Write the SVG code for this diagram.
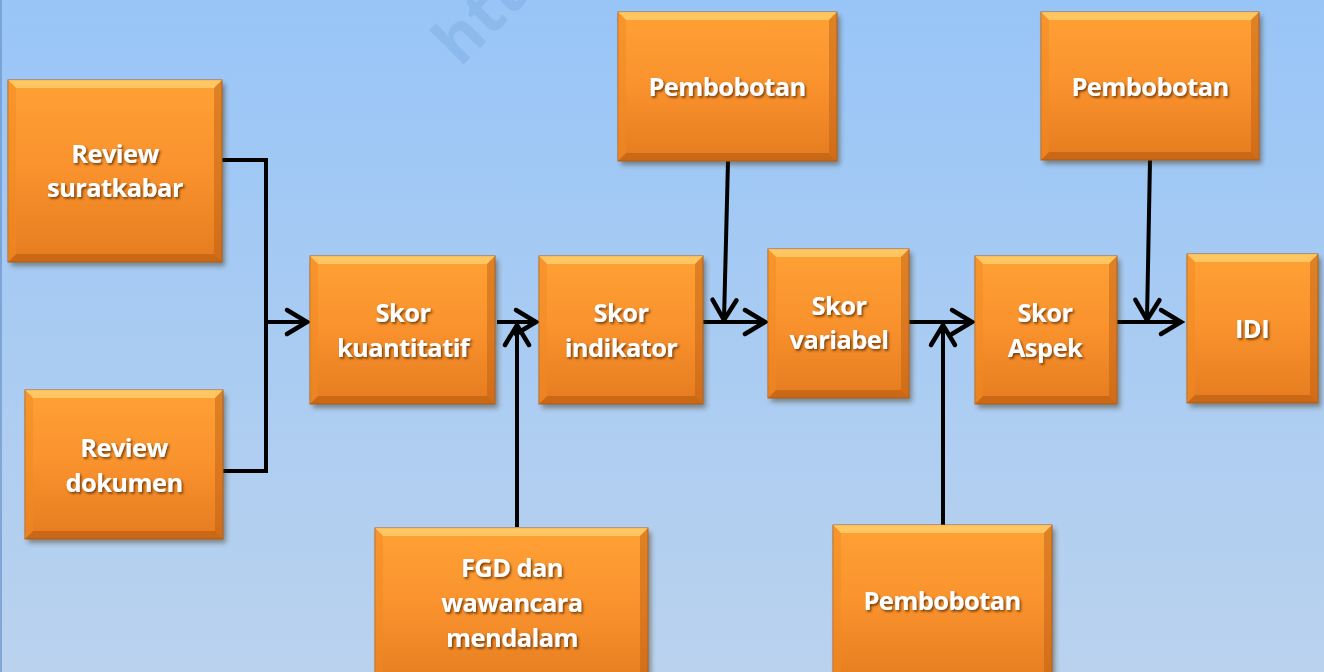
<svg xmlns="http://www.w3.org/2000/svg" width="1324" height="672" viewBox="0 0 1324 672">
<defs>
<linearGradient id="bg" x1="0" y1="0" x2="0" y2="1">
<stop offset="0" stop-color="#98C5F7"/>
<stop offset="1" stop-color="#BAD2EE"/>
</linearGradient>
<linearGradient id="face" x1="0" y1="0" x2="0" y2="1">
<stop offset="0" stop-color="#FFA135"/>
<stop offset="0.5" stop-color="#F9922D"/>
<stop offset="1" stop-color="#E57B1F"/>
</linearGradient>
<filter id="blur" x="-10%" y="-10%" width="120%" height="120%">
<feGaussianBlur stdDeviation="2.5"/>
</filter>
<filter id="tsh" x="-10%" y="-20%" width="120%" height="150%">
<feDropShadow dx="1.5" dy="1.8" stdDeviation="1.2" flood-color="#5A2A00" flood-opacity="0.8"/>
</filter>
<marker id="arr" markerWidth="30" markerHeight="30" refX="0" refY="0" orient="auto" markerUnits="userSpaceOnUse" style="overflow:visible">
<path d="M-20,-12 L0,0 L-20,12" fill="none" stroke="#000" stroke-width="4.5" stroke-linecap="round" stroke-linejoin="miter"/>
</marker>
</defs>
<style>
.sh{fill:#3A2A10;opacity:0.45;filter:url(#blur)}
.face{fill:url(#face);stroke:#B0641F;stroke-width:1}
.bt{fill:#FFD372;opacity:0.75}
.bb{fill:#A9500C;opacity:0.45}
.bl{fill:#F08A22;opacity:0.5}
.br{fill:#B85C12;opacity:0.45}
.t{font-family:"Open Sans","Noto Sans","DejaVu Sans",sans-serif;font-weight:bold;font-size:25.5px;letter-spacing:-0.6px;fill:#FFFFFF;text-anchor:middle;filter:url(#tsh)}
.c{fill:none;stroke:#000;stroke-width:4}
.ca{fill:none;stroke:#000;stroke-width:4;marker-end:url(#arr)}
.wm{font-family:"Open Sans","DejaVu Sans",sans-serif;font-weight:bold;font-size:64px;fill:#5F93CC;opacity:0.22}
</style>
<rect x="0" y="0" width="1324" height="672" fill="url(#bg)"/>
<line x1="1" y1="0" x2="1" y2="672" stroke="#6F98CC" stroke-width="1.5"/>
<text class="wm" transform="translate(460,68) rotate(-45)">htt</text>

<g id="connectors">
<path class="c" d="M222,160 H266 V471 H223"/>
<path class="ca" d="M266,322 H307"/>
<path class="ca" d="M497,322 H536"/>
<path class="ca" d="M517,527 V325"/>
<path class="ca" d="M728,161 L724,320"/>
<path class="ca" d="M703,322 H765"/>
<path class="ca" d="M909,322 H972"/>
<path class="ca" d="M943,525 V325"/>
<path class="ca" d="M1150,160 L1147,320"/>
<path class="ca" d="M1117,322 H1181"/>
</g>

<g id="review-suratkabar">
<rect class="sh" x="11" y="84" width="214" height="182"/>
<rect class="face" x="8" y="80" width="214" height="182"/>
<path class="bt" d="M8,80 h214 l-8,8 h-198 z"/>
<path class="bb" d="M8,262 h214 l-8,-8 h-198 z"/>
<path class="bl" d="M8,80 l8,8 v166 l-8,8 z"/>
<path class="br" d="M222,80 l-8,8 v166 l8,8 z"/>
<text class="t" x="115" y="163">Review</text>
<text class="t" x="115" y="197">suratkabar</text>
</g>

<g id="review-dokumen">
<rect class="sh" x="28" y="394" width="198" height="149"/>
<rect class="face" x="25" y="390" width="198" height="149"/>
<path class="bt" d="M25,390 h198 l-8,8 h-182 z"/>
<path class="bb" d="M25,539 h198 l-8,-8 h-182 z"/>
<path class="bl" d="M25,390 l8,8 v133 l-8,8 z"/>
<path class="br" d="M223,390 l-8,8 v133 l8,8 z"/>
<text class="t" x="124" y="457">Review</text>
<text class="t" x="124" y="492">dokumen</text>
</g>

<g id="skor-kuantitatif">
<rect class="sh" x="313" y="260" width="185" height="148"/>
<rect class="face" x="310" y="256" width="185" height="148"/>
<path class="bt" d="M310,256 h185 l-8,8 h-169 z"/>
<path class="bb" d="M310,404 h185 l-8,-8 h-169 z"/>
<path class="bl" d="M310,256 l8,8 v132 l-8,8 z"/>
<path class="br" d="M495,256 l-8,8 v132 l8,8 z"/>
<text class="t" x="403" y="322">Skor</text>
<text class="t" x="403" y="357">kuantitatif</text>
</g>

<g id="skor-indikator">
<rect class="sh" x="542" y="260" width="164" height="148"/>
<rect class="face" x="539" y="256" width="164" height="148"/>
<path class="bt" d="M539,256 h164 l-8,8 h-148 z"/>
<path class="bb" d="M539,404 h164 l-8,-8 h-148 z"/>
<path class="bl" d="M539,256 l8,8 v132 l-8,8 z"/>
<path class="br" d="M703,256 l-8,8 v132 l8,8 z"/>
<text class="t" x="621" y="322">Skor</text>
<text class="t" x="621" y="357">indikator</text>
</g>

<g id="pembobotan-1">
<rect class="sh" x="621" y="16" width="219" height="149"/>
<rect class="face" x="618" y="12" width="219" height="149"/>
<path class="bt" d="M618,12 h219 l-8,8 h-203 z"/>
<path class="bb" d="M618,161 h219 l-8,-8 h-203 z"/>
<path class="bl" d="M618,12 l8,8 v133 l-8,8 z"/>
<path class="br" d="M837,12 l-8,8 v133 l8,8 z"/>
<text class="t" x="727" y="96">Pembobotan</text>
</g>

<g id="skor-variabel">
<rect class="sh" x="771" y="253" width="141" height="149"/>
<rect class="face" x="768" y="249" width="141" height="149"/>
<path class="bt" d="M768,249 h141 l-8,8 h-125 z"/>
<path class="bb" d="M768,398 h141 l-8,-8 h-125 z"/>
<path class="bl" d="M768,249 l8,8 v133 l-8,8 z"/>
<path class="br" d="M909,249 l-8,8 v133 l8,8 z"/>
<text class="t" x="839" y="315">Skor</text>
<text class="t" x="839" y="349">variabel</text>
</g>

<g id="skor-aspek">
<rect class="sh" x="978" y="260" width="142" height="148"/>
<rect class="face" x="975" y="256" width="142" height="148"/>
<path class="bt" d="M975,256 h142 l-8,8 h-126 z"/>
<path class="bb" d="M975,404 h142 l-8,-8 h-126 z"/>
<path class="bl" d="M975,256 l8,8 v132 l-8,8 z"/>
<path class="br" d="M1117,256 l-8,8 v132 l8,8 z"/>
<text class="t" x="1045" y="322">Skor</text>
<text class="t" x="1045" y="357">Aspek</text>
</g>

<g id="pembobotan-2">
<rect class="sh" x="1044" y="16" width="218" height="148"/>
<rect class="face" x="1041" y="12" width="218" height="148"/>
<path class="bt" d="M1041,12 h218 l-8,8 h-202 z"/>
<path class="bb" d="M1041,160 h218 l-8,-8 h-202 z"/>
<path class="bl" d="M1041,12 l8,8 v132 l-8,8 z"/>
<path class="br" d="M1259,12 l-8,8 v132 l8,8 z"/>
<text class="t" x="1150" y="96">Pembobotan</text>
</g>

<g id="idi">
<rect class="sh" x="1190" y="258" width="131" height="149"/>
<rect class="face" x="1187" y="254" width="131" height="149"/>
<path class="bt" d="M1187,254 h131 l-8,8 h-115 z"/>
<path class="bb" d="M1187,403 h131 l-8,-8 h-115 z"/>
<path class="bl" d="M1187,254 l8,8 v133 l-8,8 z"/>
<path class="br" d="M1318,254 l-8,8 v133 l8,8 z"/>
<text class="t" x="1252" y="338">IDI</text>
</g>

<g id="fgd">
<rect class="sh" x="378" y="532" width="273" height="160"/>
<rect class="face" x="375" y="528" width="273" height="160"/>
<path class="bt" d="M375,528 h273 l-8,8 h-257 z"/>
<path class="bl" d="M375,528 l8,8 v144 l-8,8 z"/>
<path class="br" d="M648,528 l-8,8 v144 l8,8 z"/>
<text class="t" x="512" y="577">FGD dan</text>
<text class="t" x="512" y="612">wawancara</text>
<text class="t" x="512" y="647">mendalam</text>
</g>

<g id="pembobotan-3">
<rect class="sh" x="836" y="529" width="219" height="160"/>
<rect class="face" x="833" y="525" width="219" height="160"/>
<path class="bt" d="M833,525 h219 l-8,8 h-203 z"/>
<path class="bl" d="M833,525 l8,8 v144 l-8,8 z"/>
<path class="br" d="M1052,525 l-8,8 v144 l8,8 z"/>
<text class="t" x="942" y="610">Pembobotan</text>
</g>
</svg>
